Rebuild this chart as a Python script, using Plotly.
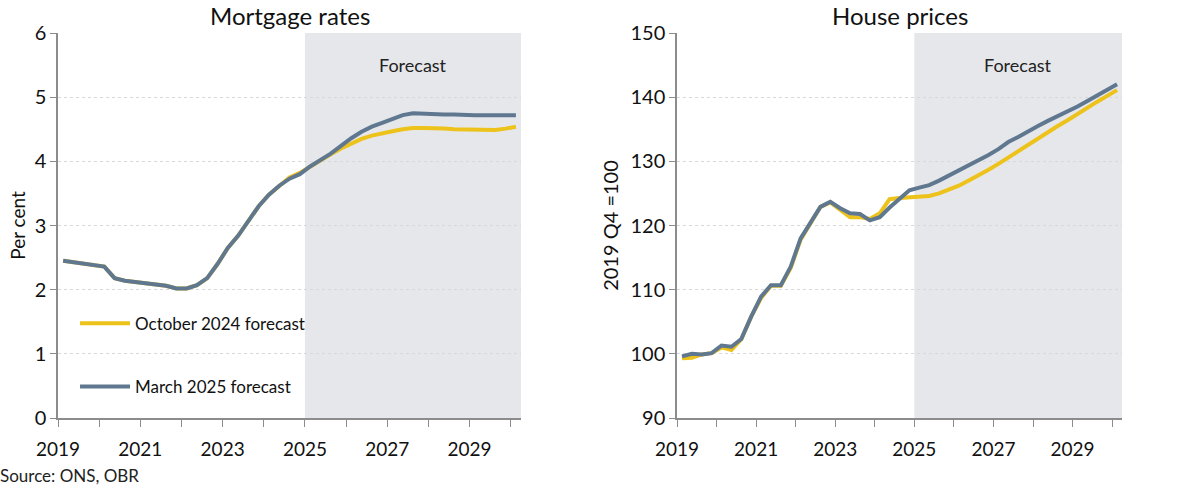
import plotly.graph_objects as go
from plotly.subplots import make_subplots

# Quarterly data, 2019 Q1 to 2030 Q1 (plotted mid-quarter)
quarters = [f"{y} Q{q}" for y in range(2019, 2031) for q in range(1, 5)][:45]
x_pos = [2019.125 + 0.25 * i for i in range(len(quarters))]

mortgage_mar25 = [2.45, 2.43, 2.41, 2.39, 2.36, 2.18, 2.14, 2.12,
                  2.10, 2.08, 2.06, 2.02, 2.02, 2.07, 2.18, 2.40,
                  2.65, 2.84, 3.07, 3.30, 3.48, 3.62, 3.73, 3.80,
                  3.92, 4.02, 4.12, 4.24, 4.36, 4.46, 4.54, 4.60,
                  4.66, 4.72, 4.75, 4.74, 4.74, 4.73, 4.73, 4.72,
                  4.72, 4.72, 4.72, 4.72, 4.72]
mortgage_oct24 = [2.45, 2.43, 2.41, 2.39, 2.36, 2.18, 2.14, 2.12,
                  2.10, 2.08, 2.06, 2.02, 2.02, 2.07, 2.18, 2.40,
                  2.65, 2.84, 3.07, 3.30, 3.48, 3.62, 3.75, 3.82,
                  3.92, 4.02, 4.11, 4.20, 4.28, 4.35, 4.40, 4.44,
                  4.47, 4.50, 4.52, 4.52, 4.52, 4.51, 4.50, 4.50,
                  4.49, 4.49, 4.49, 4.51, 4.54]

house_mar25 = [99.6, 100.0, 99.9, 100.1, 101.3, 101.1, 102.3, 105.8,
               108.9, 110.7, 110.7, 113.6, 118.0, 120.6, 122.9, 123.7,
               122.7, 121.9, 121.8, 120.8, 121.3, 122.8, 124.2, 125.5,
               125.9, 126.3, 127.0, 127.8, 128.6, 129.3, 130.1, 131.0,
               131.9, 133.0, 133.8, 134.7, 135.5, 136.3, 137.0, 137.7,
               138.55, 139.4, 140.3, 141.2, 142.0]
house_oct24 = [99.3, 99.4, 99.9, 100.1, 101.0, 100.6, 102.3, 105.8,
               108.7, 110.6, 110.6, 113.4, 117.8, 120.5, 122.9, 123.6,
               122.5, 121.3, 121.3, 121.0, 121.9, 124.1, 124.3, 124.4,
               124.4, 124.6, 125.0, 125.6, 126.2, 127.0, 127.8, 128.7,
               129.6, 130.6, 131.6, 132.6, 133.6, 134.6, 135.5, 136.4,
               137.4, 138.4, 139.3, 140.2, 141.1]

year_ticks = list(range(2019, 2031))
year_labels = [str(y) if y % 2 == 1 else "" for y in year_ticks]
forecast_start = 2025
x_range = [2019, 2030.25]

YELLOW = "#EDC21B"
BLUE = "#5F7890"
SHADE = "#E6E7EB"
AXIS = "#8C8C8C"
FONT = "Lato"

fig = make_subplots(rows=1, cols=2, horizontal_spacing=0.1466)
fig.update_xaxes(domain=[0, 0.4352], row=1, col=1)
fig.update_xaxes(domain=[0.5818, 1.0], row=1, col=2)

fig.add_trace(go.Scatter(x=x_pos, y=mortgage_oct24, mode="lines",
                         name="October 2024 forecast", legendgroup="a",
                         line=dict(color=YELLOW, width=4)), row=1, col=1)
fig.add_trace(go.Scatter(x=x_pos, y=mortgage_mar25, mode="lines",
                         name="March 2025 forecast", legendgroup="b",
                         line=dict(color=BLUE, width=4)), row=1, col=1)
fig.add_trace(go.Scatter(x=x_pos, y=house_oct24, mode="lines",
                         name="October 2024 forecast", showlegend=False,
                         line=dict(color=YELLOW, width=4)), row=1, col=2)
fig.add_trace(go.Scatter(x=x_pos, y=house_mar25, mode="lines",
                         name="March 2025 forecast", showlegend=False,
                         line=dict(color=BLUE, width=4)), row=1, col=2)

for xr, yr in (("x", "y"), ("x2", "y2")):
    fig.add_shape(type="rect", xref=xr, yref=f"{yr} domain",
                  x0=forecast_start, x1=x_range[1], y0=0, y1=1,
                  fillcolor=SHADE, line_width=0, layer="below")

fig.add_annotation(x=(forecast_start + x_range[1]) / 2, y=5.5, xref="x", yref="y",
                   text="Forecast", showarrow=False,
                   font=dict(family=FONT, size=18, color="#222"))
fig.add_annotation(x=(forecast_start + x_range[1]) / 2, y=145, xref="x2", yref="y2",
                   text="Forecast", showarrow=False,
                   font=dict(family=FONT, size=18, color="#222"))

fig.add_annotation(x=0.2176, y=1.0, xref="paper", yref="paper", xanchor="center",
                   yanchor="bottom", yshift=1, text="Mortgage rates", showarrow=False,
                   font=dict(family=FONT, size=24, color="#111"))
fig.add_annotation(x=0.7909, y=1.0, xref="paper", yref="paper", xanchor="center",
                   yanchor="bottom", yshift=1, text="House prices", showarrow=False,
                   font=dict(family=FONT, size=24, color="#111"))
fig.add_annotation(x=0, y=0, xref="paper", yref="paper", xanchor="left", yanchor="middle",
                   xshift=-60, yshift=-57, text="Source: ONS, OBR", showarrow=False,
                   font=dict(family=FONT, size=17, color="#222"))

common_x = dict(range=x_range, tickmode="array", tickvals=year_ticks, ticktext=year_labels,
                ticks="outside", ticklen=7, tickcolor=AXIS, showline=True, linecolor=AXIS,
                linewidth=1.5, showgrid=False, zeroline=False, ticklabelstandoff=6,
                tickfont=dict(family=FONT, size=19, color="#111"))
fig.update_xaxes(**common_x)

common_y = dict(ticks="outside", ticklen=6, tickcolor=AXIS, showline=True, linecolor=AXIS,
                linewidth=1.5, showgrid=True, gridcolor="#D8D8D8", griddash="dot",
                gridwidth=1, zeroline=False,
                tickfont=dict(family=FONT, size=20, color="#111"))
fig.update_yaxes(**common_y)
fig.update_yaxes(range=[0, 6], dtick=1, row=1, col=1,
                 title=dict(text="Per cent", standoff=4, font=dict(family=FONT, size=19, color="#111")))
fig.update_yaxes(range=[90, 150], dtick=10, row=1, col=2,
                 title=dict(text="2019 Q4 =100", standoff=6, font=dict(family=FONT, size=20, color="#111")))

fig.update_layout(
    width=1200, height=490,
    margin=dict(l=58, r=78, t=33, b=72),
    plot_bgcolor="white", paper_bgcolor="white",
    font=dict(family=FONT, color="#111"),
    showlegend=True,
    legend=dict(x=0.016, y=0.163, xanchor="left", yanchor="middle",
                bgcolor="rgba(0,0,0,0)", tracegroupgap=38,
                font=dict(family=FONT, size=17, color="#111"), itemwidth=50),
)

fig.write_html("out.html", config={"displayModeBar": False},
               post_script="document.body.style.margin='0';")
